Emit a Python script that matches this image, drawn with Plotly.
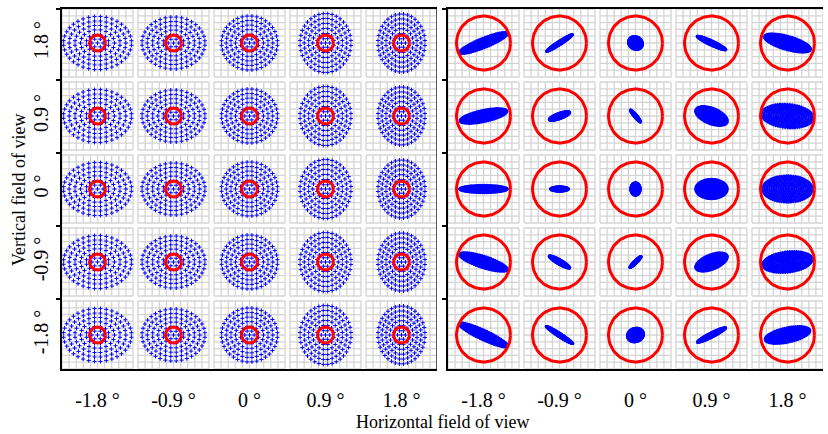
import numpy as np
import plotly.graph_objects as go

# ---------------- data ----------------
FIELD_H = [-1.8, -0.9, 0, 0.9, 1.8]          # columns (left -> right)
FIELD_V = [1.8, 0.9, 0, -0.9, -1.8]          # rows (top -> bottom)
TICK_TEXT_H = ["-1.8 °", "-0.9 °", "0 °", "0.9 °", "1.8 °"]
TICK_TEXT_V = ["1.8 °", "0.9 °", "0 °", "-0.9 °", "-1.8 °"]

# left system: spot semi-axes per column (µm), Airy radius
LEFT_SEMI_X = [34, 31.5, 28, 25.5, 23.5]
LEFT_SEMI_Y = [26.5, 26, 27, 29.5, 29]
LEFT_AIRY = 8.0

# right system: spot ellipse per (row, col): semi-major, semi-minor, angle (deg)
RIGHT_A = [[26, 15.5, 7.5, 16, 24],
           [24, 11, 8, 17, 26],
           [24, 9, 5, 16, 25],
           [25, 12, 8, 17, 25],
           [27, 16, 8.5, 16, 23]]
RIGHT_B = [[5, 2, 6.5, 2.5, 7],
           [6, 3, 1.5, 8, 12],
           [4, 2.5, 6.5, 10, 13.5],
           [6, 2.5, 1.5, 7.5, 10.5],
           [5, 2, 7, 2.5, 7.5]]
RIGHT_ANG = [[22, 33, -30, -25, -16],
             [12, 20, -50, -22, -5],
             [0, 0, 0, 0, 0],
             [-18, -30, 45, 22, 7],
             [-25, -33, 20, 27, 12]]
RIGHT_AIRY = 27.0

# ---------------- geometry of the cell layout ----------------
CELL_W, CELL_H = 71.0, 68.0
PITCH_X, PITCH_Y = 76.0, 73.0
NDIV = 10
XR = 4 * PITCH_X + CELL_W
YR = 4 * PITCH_Y + CELL_H
W, H = 828, 434
FONT = "Liberation Serif"


def cell_center(i, j):
    return i * PITCH_X + CELL_W / 2, YR - (j * PITCH_Y + CELL_H / 2)


def grid_xy():
    xs, ys = [], []
    for j in range(5):
        for i in range(5):
            x0 = i * PITCH_X
            y0 = YR - (j * PITCH_Y + CELL_H)
            for k in range(NDIV + 1):
                xv = x0 + k * CELL_W / NDIV
                xs += [xv, xv, None]
                ys += [y0, y0 + CELL_H, None]
                yv = y0 + k * CELL_H / NDIV
                xs += [x0, x0 + CELL_W, None]
                ys += [yv, yv, None]
    return xs, ys


def pupil(nring, stagger=True):
    u, v = [0.0], [0.0]
    for k in range(1, nring + 1):
        n = 6 * k
        off = (0.5 if (stagger and k % 2 == 0) else 0.0)
        t = 2 * np.pi * (np.arange(n) + off) / n
        u += list(k / nring * np.cos(t))
        v += list(k / nring * np.sin(t))
    return np.array(u), np.array(v)


def circle_xy(r):
    xs, ys = [], []
    t = np.linspace(0, 2 * np.pi, 80)
    for j in range(5):
        for i in range(5):
            cx, cy = cell_center(i, j)
            xs += list(cx + r * np.cos(t)) + [None]
            ys += list(cy + r * np.sin(t)) + [None]
    return xs, ys


fig = go.Figure()

for ax in ["", "2"]:
    gx, gy = grid_xy()
    fig.add_trace(go.Scatter(x=gx, y=gy, mode="lines", xaxis="x" + ax, yaxis="y" + ax,
                             line=dict(color="#d4d4d4", width=1.3),
                             hoverinfo="skip", showlegend=False))

# left spots
u, v = pupil(6)
lx, ly = [], []
for j in range(5):
    for i in range(5):
        cx, cy = cell_center(i, j)
        lx += list(cx + LEFT_SEMI_X[i] * u)
        ly += list(cy + LEFT_SEMI_Y[i] * v)
fig.add_trace(go.Scatter(x=lx, y=ly, mode="markers", xaxis="x", yaxis="y",
                         marker=dict(symbol="cross-thin", size=3,
                                     line=dict(color="#0000ff", width=1.0)),
                         hoverinfo="skip", showlegend=False))

# right spots
u2, v2 = pupil(11, stagger=False)
rx, ry = [], []
for j in range(5):
    for i in range(5):
        cx, cy = cell_center(i, j)
        a, b = RIGHT_A[j][i], RIGHT_B[j][i]
        th = np.radians(RIGHT_ANG[j][i])
        px = a * u2
        py = b * v2
        rx += list(cx + px * np.cos(th) - py * np.sin(th))
        ry += list(cy + px * np.sin(th) + py * np.cos(th))
fig.add_trace(go.Scatter(x=rx, y=ry, mode="markers", xaxis="x2", yaxis="y2",
                         marker=dict(symbol="circle", size=2.4, color="#0000ff"),
                         hoverinfo="skip", showlegend=False))

# Airy circles
cx_, cy_ = circle_xy(LEFT_AIRY)
fig.add_trace(go.Scatter(x=cx_, y=cy_, mode="lines", xaxis="x", yaxis="y",
                         line=dict(color="#ff0000", width=3),
                         hoverinfo="skip", showlegend=False))
cx_, cy_ = circle_xy(RIGHT_AIRY)
fig.add_trace(go.Scatter(x=cx_, y=cy_, mode="lines", xaxis="x2", yaxis="y2",
                         line=dict(color="#ff0000", width=3),
                         hoverinfo="skip", showlegend=False))

centers_x = [cell_center(i, 0)[0] for i in range(5)]
centers_y = [cell_center(0, j)[1] for j in range(5)]
bounds_y = [YR - (j * PITCH_Y - (PITCH_Y - CELL_H) / 2) for j in range(1, 5)] + [YR]

xdom_l = [62 / W, 437 / W]
xdom_r = [448 / W, 823 / W]
ydom = [1 - 369 / H, 1 - 9 / H]

xcommon = dict(range=[0, XR], showgrid=False, zeroline=False, showline=True,
               linecolor="black", linewidth=2, mirror=True,
               tickmode="array", tickvals=centers_x, ticktext=TICK_TEXT_H,
               ticks="", tickfont=dict(family=FONT, size=20, color="black"),
               ticklabelstandoff=12, fixedrange=True)
ycommon = dict(range=[0, YR], showgrid=False, zeroline=False, showline=True,
               linecolor="black", linewidth=2, mirror=False,
               tickmode="array", tickvals=centers_y, ticktext=TICK_TEXT_V,
               ticks="", tickangle=-90,
               tickfont=dict(family=FONT, size=20, color="black"),
               ticklabelstandoff=4,
               minor=dict(tickmode="array", tickvals=bounds_y, ticks="outside",
                          ticklen=4, tickwidth=1.5, tickcolor="black"),
               fixedrange=True)

fig.update_layout(
    width=W, height=H,
    margin=dict(l=0, r=0, t=0, b=0),
    paper_bgcolor="white", plot_bgcolor="white",
    xaxis=dict(domain=xdom_l, anchor="y", **xcommon),
    yaxis=dict(domain=ydom, anchor="x", **ycommon),
    xaxis2=dict(domain=xdom_r, anchor="y2", **xcommon),
    yaxis2=dict(domain=ydom, anchor="x2", showticklabels=False,
                **{k: v for k, v in ycommon.items() if k not in ("tickfont",)}),
    shapes=[dict(type="line", xref="x", yref="y", x0=XR, x1=XR, y0=-4, y1=YR,
                 line=dict(color="black", width=1.2))],
    annotations=[
        dict(text="Horizontal field of view", x=442 / W, y=1 - 422 / H,
             xref="paper", yref="paper", showarrow=False,
             xanchor="center", yanchor="middle",
             font=dict(family=FONT, size=18, color="black")),
        dict(text="Vertical field of view", x=19 / W, y=1 - 190 / H,
             xref="paper", yref="paper", showarrow=False, textangle=-90,
             xanchor="center", yanchor="middle",
             font=dict(family=FONT, size=18, color="black")),
    ],
)

fig.write_html("out.html")
